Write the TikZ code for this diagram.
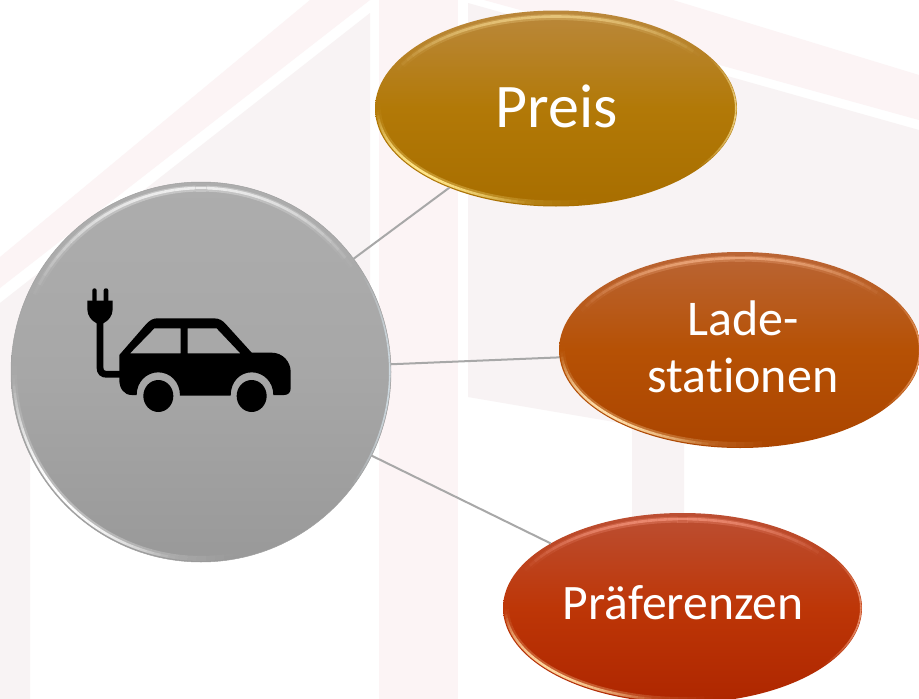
\documentclass[tikz,border=0pt]{standalone}
\usepackage{fontspec}
\setmainfont[Ligatures=NoCommon]{Carlito}
\usetikzlibrary{shapes.geometric}
\definecolor{bandpink}{HTML}{FCF4F5}
\definecolor{wallpale}{HTML}{F8F3F4}
\definecolor{linkgrey}{HTML}{A8A8A8}
\definecolor{gT}{HTML}{ADADAD}\definecolor{gM}{HTML}{A7A7A7}\definecolor{gB}{HTML}{999999}\definecolor{gE}{HTML}{A0A0A0}
\definecolor{pT}{HTML}{BA883C}\definecolor{pM}{HTML}{B27907}\definecolor{pB}{HTML}{A86E00}
\definecolor{lT}{HTML}{BA6535}\definecolor{lM}{HTML}{B65105}\definecolor{lB}{HTML}{AB4500}
\definecolor{rT}{HTML}{BC4F33}\definecolor{rM}{HTML}{BD3607}\definecolor{rB}{HTML}{AE2600}
\definecolor{hiGr}{HTML}{D8E6EE}
\definecolor{hiP1}{HTML}{F2D48A}\definecolor{hiP2}{HTML}{FFE68A}\definecolor{hiP3}{HTML}{F5DC90}
\definecolor{hiL1}{HTML}{F6B488}\definecolor{hiL2}{HTML}{FFDDA8}\definecolor{hiL3}{HTML}{F0A878}
\definecolor{hiR1}{HTML}{F89880}\definecolor{hiR2}{HTML}{FFD8A0}\definecolor{hiR3}{HTML}{F0A080}
\newcommand\bevelset[4]{\def\bcx{#1}\def\bcy{#2}\def\brx{#3}\def\bry{#4}}
\newcommand\bevelarc[6]{%
  \foreach \i in {0,...,35}{%
    \pgfmathsetmacro\tA{#1+(#2-#1)*\i/36}%
    \pgfmathsetmacro\tB{#1+(#2-#1)*(\i+1)/36}%
    \pgfmathsetmacro\op{#6*sin(180*(\i+0.5)/36)}%
    \draw[line width=#4pt,color=#5,opacity=\op]
      ({\bcx+(\brx-#3)*cos(\tA)},{\bcy-(\bry-#3)*sin(\tA)}) --
      ({\bcx+(\brx-#3)*cos(\tB)},{\bcy-(\bry-#3)*sin(\tB)});
  }%
}
\newcommand\bevelall[3]{%
  \begin{scope}
    \clip (\bcx,\bcy) ellipse [x radius=\brx, y radius=\bry];
    \bevelarc{35}{155}{6.5}{6}{#1}{0.3}
    \bevelarc{35}{155}{6}{2.6}{#1}{0.7}
    \bevelarc{178}{280}{3.5}{5}{#2}{0.3}
    \bevelarc{182}{262}{2.6}{2.4}{#2}{1}
    \bevelarc{-38}{32}{1.2}{1.6}{#3}{0.8}
  \end{scope}
}
\tikzset{
  bub/.style={ellipse,inner sep=0pt,outer sep=0pt},
  lab/.style={text=white,inner sep=0pt,anchor=base,align=center},
  link/.style={draw=linkgrey,line width=2pt}
}
\begin{document}
\begin{tikzpicture}[x=1pt,y=-1pt]
\clip[use as bounding box] (0,0) rectangle (919,699);
\fill[white] (0,0) rectangle (919,699);
% background house
\fill[bandpink] (310,0) -- (370,0) -- (0,288) -- (0,257) -- cycle;
\fill[bandpink] (379,0) rectangle (458,699);
\fill[bandpink] (484,0) -- (673,0) -- (919,75) -- (919,120) -- cycle;
\fill[wallpale] (370,13) -- (370,400) -- (30,400) -- (30,699) -- (0,699) -- (0,303) -- cycle;
\fill[wallpale] (468,3) -- (919,130) -- (919,349) -- (684,430) -- (684,699) -- (632,699) -- (632,425) -- (468,397) -- cycle;
% shapes
\node[bub,draw=gE,line width=0.5pt,minimum width=380pt,minimum height=380pt,top color=gT,bottom color=gB,middle color=gM] (car) at (201,372) {};
\node[bub,minimum width=362pt,minimum height=196pt,top color=pT,bottom color=pB,middle color=pM] (preis) at (556,108.5) {};
\node[bub,minimum width=362pt,minimum height=196pt,top color=lT,bottom color=lB,middle color=lM] (lade) at (740,350) {};
\node[bub,minimum width=359pt,minimum height=190pt,top color=rT,bottom color=rB,middle color=rM] (praef) at (682.5,608) {};
% connectors
\draw[link] (car) -- (preis);
\draw[link] (car) -- (lade);
\draw[link] (car) -- (praef);
% bevels
\bevelset{201}{372}{190}{190}\bevelall{white}{white}{hiGr}
\bevelset{556}{108.5}{181}{98}\bevelall{hiP1}{hiP2}{hiP3}
\bevelset{740}{350}{181}{98}\bevelall{hiL1}{hiL2}{hiL3}
\bevelset{682.5}{608}{179.5}{95}\bevelall{hiR1}{hiR2}{hiR3}
% labels
\node[lab,font=\fontsize{62}{62}\selectfont] (preistext) at (557,127) {Preis};
\node[lab,font=\fontsize{50}{57}\selectfont] (ladetext1) at (743,335) {Lade-};
\node[lab,font=\fontsize{50}{57}\selectfont] (ladetext2) at (743,392) {stationen};
\node[lab,font=\fontsize{49.6}{57}\selectfont] (praeftext) at (683,619) {Präferenzen};
% icon
\begin{scope}[shift={(60,270)},x=0.33333pt,y=-0.33333pt]
  \fill[black,even odd rule]
    (178,255) -- (258,163) .. controls (270,150) and (280,145) .. (292,145)
    -- (462,145) .. controls (478,145) and (488,152) .. (497,162)
    -- (575,248) -- (635,248) .. controls (668,248) and (692,275) .. (692,305)
    -- (692,355) .. controls (692,368) and (684,375) .. (672,375)
    -- (640,375) .. controls (640,335) and (610,307) .. (575,307)
    .. controls (540,307) and (512,335) .. (512,377)
    -- (360,377) .. controls (360,335) and (330,307) .. (295,307)
    .. controls (260,307) and (230,335) .. (230,375)
    -- (215,375) .. controls (192,375) and (178,355) .. (178,330) -- cycle
    (283,175) -- (362,175) -- (362,250) -- (210,250) -- cycle
    (383,175) -- (470,175) -- (541,250) -- (383,250) -- cycle;
  \fill[black] (295,378) ellipse [x radius=45, y radius=48];
  \fill[black] (575,378) ellipse [x radius=45, y radius=48];
  \fill[black] (82,92) -- (158,92) -- (158,118) .. controls (158,138) and (145,152) .. (130,160)
    -- (110,160) .. controls (95,152) and (82,138) .. (82,118) -- cycle;
  \fill[black,rounded corners=2pt] (97,100) -- (97,55) -- (110,55) -- (110,100) -- cycle;
  \fill[black,rounded corners=2pt] (131,100) -- (131,55) -- (145,55) -- (145,100) -- cycle;
  \draw[black,line width=6.8pt] (120,150) -- (120,292) .. controls (120,306) and (127,313) .. (141,313) -- (182,313);
\end{scope}
\end{tikzpicture}
\end{document}
